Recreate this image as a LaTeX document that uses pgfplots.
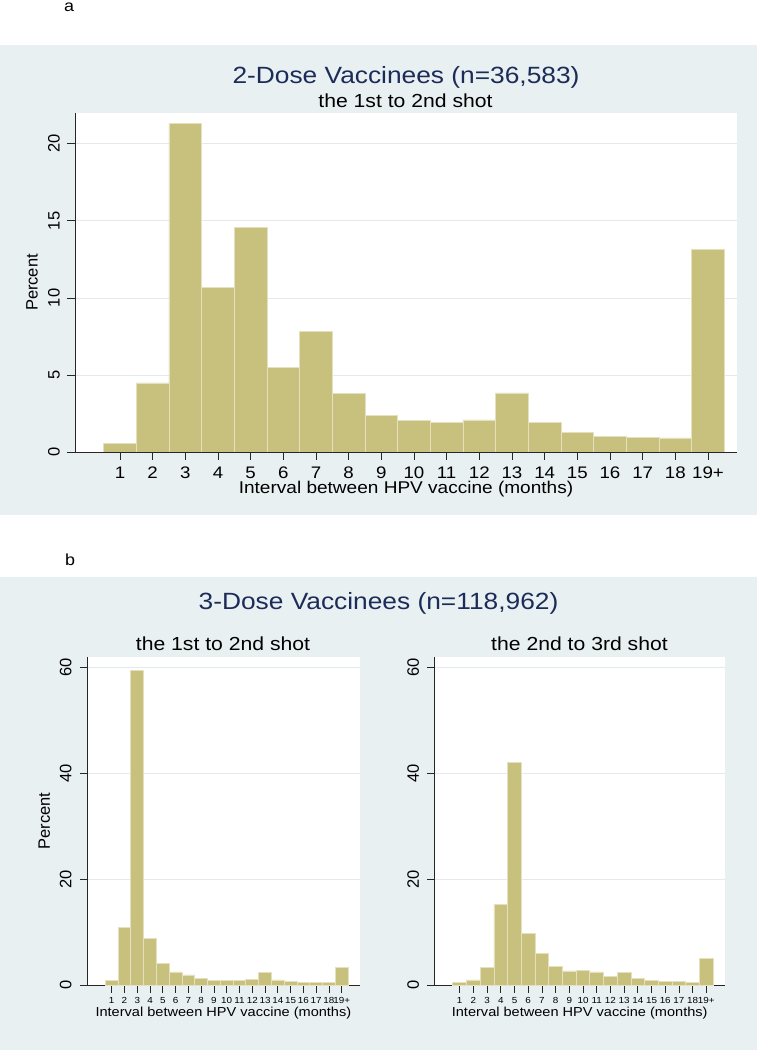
\documentclass[border=0pt]{standalone}
\usepackage{fontspec}
\setmainfont{Liberation Sans}[FakeStretch=1.12]
\newfontfamily\rotfont{Liberation Sans}
\usepackage{pgfplots}
\usepackage{pgfplotstable}
\pgfplotsset{compat=1.18}

\definecolor{bgcol}{RGB}{233,240,242}
\definecolor{barcol}{RGB}{200,193,126}
\definecolor{barline}{RGB}{228,224,192}
\definecolor{gridcol}{RGB}{226,234,236}
\definecolor{titlecol}{RGB}{28,44,88}

\newcommand{\fs}[1]{\fontsize{#1}{#1}\selectfont}

% percent of vaccinees by interval (months), 19 = "19+"
\pgfplotstableread{
m  two    first  second
1  0.54   0.85   0.40
2  4.48   10.9   0.95
3  21.3   59.5   3.30
4  10.65  8.80   15.25
5  14.58  4.10   42.0
6  5.49   2.46   9.77
7  7.81   1.90   5.92
8  3.79   1.27   3.46
9  2.40   0.82   2.65
10 2.03   0.82   2.70
11 1.92   0.80   2.46
12 2.08   1.07   1.70
13 3.83   2.39   2.39
14 1.92   0.95   1.20
15 1.27   0.70   0.90
16 1.01   0.50   0.70
17 0.95   0.50   0.65
18 0.91   0.45   0.55
19 13.14  3.35   5.10
}\vacc

\pgfplotsset{
  histo/.style={
    scale only axis, anchor=south west, ymin=0,
    axis x line*=bottom, axis y line*=left,
    axis line style={black!85, line width=0.8pt},
    axis background/.style={fill=white},
    tick align=outside,
    tick style={black!85, line width=0.8pt},
    xtick={1,2,3,4,5,6,7,8,9,10,11,12,13,14,15,16,17,18,19},
    xticklabels={1,2,3,4,5,6,7,8,9,10,11,12,13,14,15,16,17,18,19+},
    ymajorgrids, grid style={gridcol, line width=0.8pt},
    /pgf/number format/assume math mode=true,
    yticklabel style={rotate=90, anchor=south, inner sep=0pt, font=\rotfont\fs{16.5}},
    xticklabel style={anchor=north, inner sep=0pt},
    every axis y label/.style={at={(rel axis cs:0,0.5)}, xshift=-43pt, rotate=90,
      anchor=center, font=\rotfont\fs{16.5}},
  },
  bars/.style={ybar, bar width=1, fill=barcol, draw=barline, line width=0.8pt},
}

\begin{document}
\begin{tikzpicture}[x=1pt, y=1pt]
\path[use as bounding box] (0,0) rectangle (757,1050);
\fill[white] (0,0) rectangle (757,1050);
\fill[bgcol] (0,535) rectangle (757,1005);
\fill[bgcol] (0,0) rectangle (757,473);

\node[font=\fs{16}, anchor=base, inner sep=0pt] at (69,1038.5) {a};
\node[font=\fs{16}, anchor=base, inner sep=0pt] at (70,484) {b};

\node[font=\fs{23.5}, text=titlecol, anchor=base] at (406,966.7) {2-Dose Vaccinees (n=36,583)};
\node[font=\fs{18.9}, anchor=base] at (405.5,942.7) {the 1st to 2nd shot};

\node[font=\fs{23.5}, text=titlecol, anchor=base] at (378.5,440) {3-Dose Vaccinees (n=118,962)};
\node[font=\fs{18.9}, anchor=base] at (223,399.3) {the 1st to 2nd shot};
\node[font=\fs{18.9}, anchor=base] at (579.5,399.3) {the 2nd to 3rd shot};

% panel a
\begin{axis}[histo,
  at={(75pt,598pt)}, width=662pt, height=339pt,
  xmin=-0.377, xmax=19.888, ymax=22.0,
  ytick={0,5,10,15,20},
  major tick length=8pt,
  xticklabel shift=6.5pt, yticklabel shift=7pt,
  xticklabel style={font=\fs{16.7}},
  xlabel={Interval between HPV vaccine (months)},
  every axis x label/.style={at={(rel axis cs:0.5,0)}, anchor=base, yshift=-42pt, font=\fs{17}},
  ylabel={Percent},
]
\addplot[bars] table[x=m, y=two] {\vacc};
\end{axis}

% panel b, left
\begin{axis}[histo,
  at={(87.3pt,65pt)}, width=272.2pt, height=328pt,
  xmin=-0.91, xmax=20.39, ymax=62,
  ytick={0,20,40,60},
  major tick length=7.5pt,
  xticklabel shift=4.5pt, yticklabel shift=8pt,
  xticklabel style={font=\fs{8.8}},
  xlabel={Interval between HPV vaccine (months)},
  every axis x label/.style={at={(rel axis cs:0.5,0)}, anchor=base, yshift=-31.7pt, font=\fs{13}},
  ylabel={Percent},
]
\addplot[bars] table[x=m, y=first] {\vacc};
\end{axis}

% panel b, right
\begin{axis}[histo,
  at={(434.7pt,65pt)}, width=290pt, height=328pt,
  xmin=-0.825, xmax=20.34, ymax=62,
  ytick={0,20,40,60},
  major tick length=7.5pt,
  xticklabel shift=4.5pt, yticklabel shift=8pt,
  xticklabel style={font=\fs{8.8}},
  xlabel={Interval between HPV vaccine (months)},
  every axis x label/.style={at={(rel axis cs:0.5,0)}, anchor=base, yshift=-31.7pt, font=\fs{13}},
]
\addplot[bars] table[x=m, y=second] {\vacc};
\end{axis}
\end{tikzpicture}
\end{document}
